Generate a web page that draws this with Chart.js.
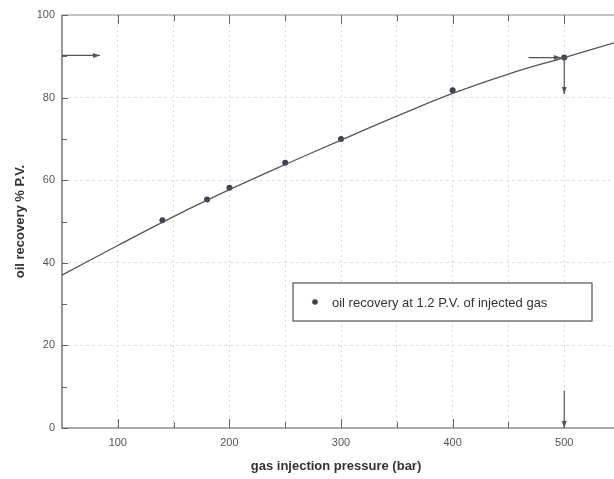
<!DOCTYPE html>
<html>
<head>
<meta charset="utf-8">
<script src="https://cdn.jsdelivr.net/npm/chart.js@4.4.1/dist/chart.umd.min.js"></script>
<style>
  html, body { margin: 0; padding: 0; background: #fff; }
  #wrap { width: 614px; height: 479px; }
</style>
</head>
<body>
<div id="wrap"><canvas id="chart" width="614" height="479"></canvas></div>
<script>
// fitted curve
const curveX = [50, 100, 150, 200, 250, 300, 350, 400, 450, 500, 545];
const curveY = [37.0, 44.2, 51.2, 57.7, 63.8, 69.7, 75.5, 81.0, 85.7, 89.7, 93.3];

// measured points
const pointX = [140, 180, 200, 250, 300, 400, 500];
const pointY = [50.3, 55.3, 58.2, 64.2, 70.0, 81.8, 89.7];

// arrows [x1, y1, x2, y2] in data units
const arrows = [
    [50, 90.2, 84, 90.2],
    [468, 89.7, 497, 89.7],
    [500, 89.7, 500, 80.9],
    [500, 9, 500, 0]
];

const xTicks = [100, 150, 200, 250, 300, 350, 400, 450, 500];
const yTicks = [0, 10, 20, 30, 40, 50, 60, 70, 80, 90, 100];
const legendLabel = "oil recovery at 1.2 P.V. of injected gas";

const FONT = "'Liberation Sans', Arial, sans-serif";

// frame, inward ticks, arrows and legend box
const decorPlugin = {
    id: "decor",
    afterDatasetsDraw(chart) {
        const { ctx, chartArea: a, scales: { x, y } } = chart;
        ctx.save();

        // axes
        ctx.strokeStyle = "#555";
        ctx.lineWidth = 1.2;
        ctx.beginPath();
        ctx.moveTo(a.left, a.top);
        ctx.lineTo(a.left, a.bottom);
        ctx.lineTo(chart.width, a.bottom);
        ctx.stroke();
        ctx.strokeStyle = "#888";
        ctx.beginPath();
        ctx.moveTo(a.left, a.top);
        ctx.lineTo(chart.width, a.top);
        ctx.stroke();

        // ticks
        ctx.strokeStyle = "#666";
        ctx.lineWidth = 1;
        ctx.beginPath();
        xTicks.forEach(v => {
            const px = Math.round(x.getPixelForValue(v)) + 0.5;
            const len = v % 100 === 0 ? 9 : 6;
            ctx.moveTo(px, a.bottom);
            ctx.lineTo(px, a.bottom - len);
            ctx.moveTo(px, a.top);
            ctx.lineTo(px, a.top + len);
        });
        yTicks.forEach(v => {
            const py = Math.round(y.getPixelForValue(v)) + 0.5;
            const len = v % 20 === 0 ? 6 : 5;
            ctx.moveTo(a.left, py);
            ctx.lineTo(a.left + len, py);
        });
        ctx.stroke();

        // arrows
        ctx.strokeStyle = "#555";
        ctx.fillStyle = "#555";
        ctx.lineWidth = 1.2;
        arrows.forEach(([x1, y1, x2, y2]) => {
            const p1 = [x.getPixelForValue(x1), y.getPixelForValue(y1)];
            const p2 = [x.getPixelForValue(x2), y.getPixelForValue(y2)];
            const ang = Math.atan2(p2[1] - p1[1], p2[0] - p1[0]);
            ctx.beginPath();
            ctx.moveTo(p1[0], p1[1]);
            ctx.lineTo(p2[0], p2[1]);
            ctx.stroke();
            ctx.beginPath();
            ctx.moveTo(p2[0], p2[1]);
            ctx.lineTo(p2[0] - 7 * Math.cos(ang) + 2.5 * Math.sin(ang), p2[1] - 7 * Math.sin(ang) - 2.5 * Math.cos(ang));
            ctx.lineTo(p2[0] - 7 * Math.cos(ang) - 2.5 * Math.sin(ang), p2[1] - 7 * Math.sin(ang) + 2.5 * Math.cos(ang));
            ctx.closePath();
            ctx.fill();
        });

        // legend box
        const bx = a.left + 231, by = a.top + 268, bw = 299, bh = 38;
        ctx.fillStyle = "#fff";
        ctx.fillRect(bx, by, bw, bh);
        ctx.strokeStyle = "#555";
        ctx.lineWidth = 1.2;
        ctx.strokeRect(bx, by, bw, bh);
        ctx.fillStyle = "#3b3f58";
        ctx.beginPath();
        ctx.arc(bx + 22, by + bh / 2, 2.8, 0, Math.PI * 2);
        ctx.fill();
        ctx.fillStyle = "#333";
        ctx.font = "13px " + FONT;
        ctx.textBaseline = "middle";
        ctx.textAlign = "left";
        ctx.fillText(legendLabel, bx + 39, by + bh / 2 + 1);

        ctx.restore();
    }
};

function initChart() {
    const ctx = document.getElementById("chart");
    new Chart(ctx, {
        type: "scatter",
        data: {
            datasets: [{
                label: "fit",
                data: curveX.map((v, i) => ({ x: v, y: curveY[i] })),
                showLine: true,
                borderColor: "#555",
                borderWidth: 1.3,
                pointRadius: 0,
                tension: 0.4
            }, {
                label: legendLabel,
                data: pointX.map((v, i) => ({ x: v, y: pointY[i] })),
                pointRadius: 3,
                pointBackgroundColor: "#3b3f58",
                pointBorderWidth: 0
            }]
        },
        options: {
            responsive: false,
            animation: false,
            clip: false,
            layout: { padding: { top: 15, right: 0, left: 0, bottom: 0 } },
            plugins: {
                legend: { display: false },
                tooltip: { enabled: false }
            },
            scales: {
                x: {
                    type: "linear",
                    min: 50,
                    max: 541,
                    afterBuildTicks: scale => { scale.ticks = xTicks.map(v => ({ value: v })); },
                    afterFit: scale => { scale.height = 51; },
                    grid: {
                        drawTicks: false,
                        color: "#d9d9d9",
                        lineWidth: 1
                    },
                    border: { display: false, dash: [2, 3] },
                    ticks: {
                        padding: 8,
                        color: "#555",
                        font: { family: FONT, size: 11 },
                        callback: v => (v % 100 === 0 ? v : "")
                    },
                    title: {
                        display: true,
                        text: "gas injection pressure (bar)",
                        color: "#333",
                        font: { family: FONT, size: 13, weight: "bold" },
                        padding: { top: 0, bottom: 5 }
                    }
                },
                y: {
                    min: 0,
                    max: 100,
                    afterBuildTicks: scale => { scale.ticks = yTicks.map(v => ({ value: v })); },
                    afterFit: scale => { scale.width = 62; },
                    grid: {
                        drawTicks: false,
                        color: c => (c.tick && c.tick.value % 20 === 0 && c.tick.value > 0 && c.tick.value < 100 ? "#dedede" : "rgba(0,0,0,0)"),
                        lineWidth: 1
                    },
                    border: { display: false, dash: [3, 3] },
                    ticks: {
                        padding: 7,
                        color: "#555",
                        font: { family: FONT, size: 11 },
                        callback: v => (v % 20 === 0 ? v : "")
                    },
                    title: {
                        display: true,
                        text: "oil recovery % P.V.",
                        color: "#333",
                        font: { family: FONT, size: 13, weight: "bold" },
                        padding: { top: 13, bottom: 0 }
                    }
                }
            }
        },
        plugins: [decorPlugin]
    });
}

document.addEventListener("DOMContentLoaded", initChart);
</script>
</body>
</html>
